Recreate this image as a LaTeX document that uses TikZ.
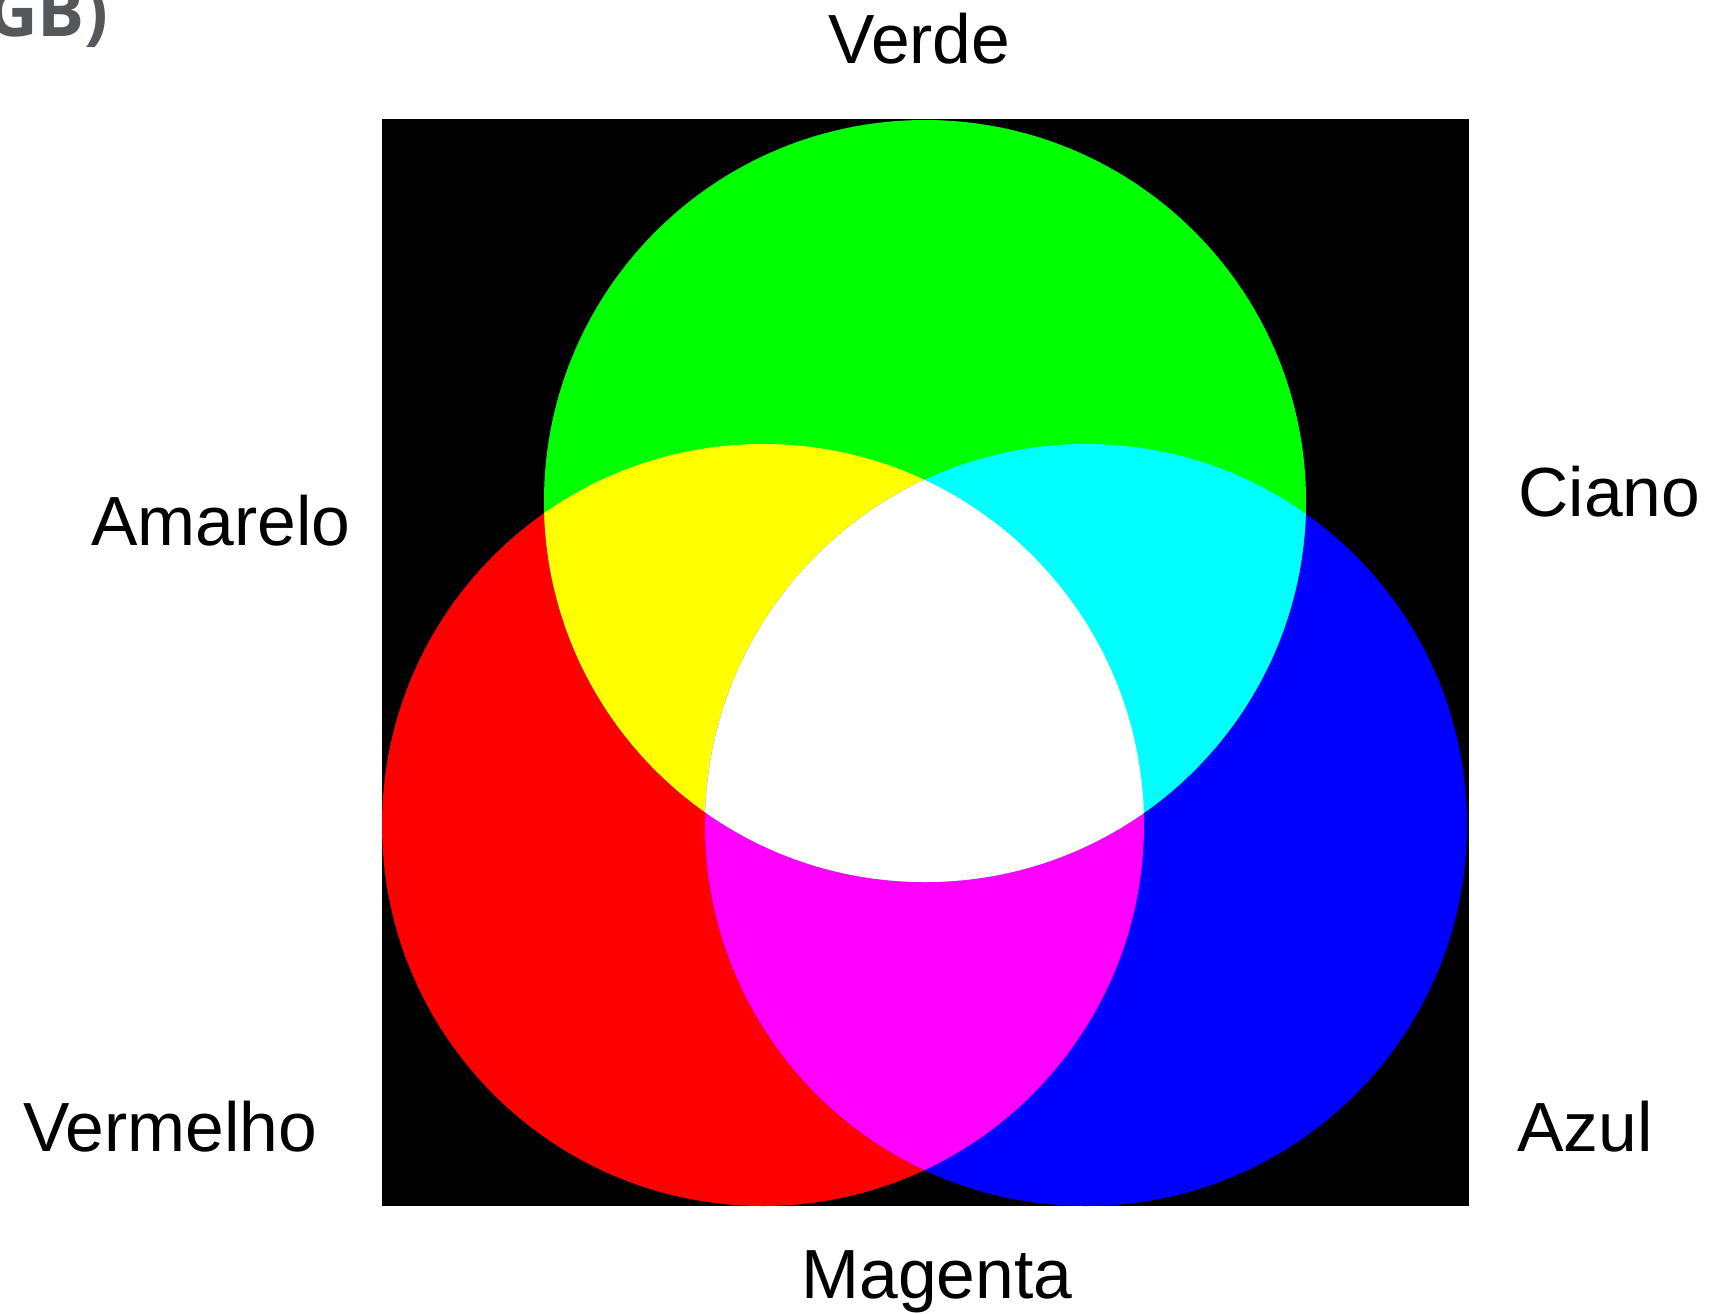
\documentclass[tikz,border=0pt]{standalone}
\usepackage{fontspec}
\setmainfont{Liberation Sans}
\newfontfamily\capfont{Open Sans}
\definecolor{capgray}{HTML}{54585A}
\definecolor{pR}{RGB}{255,0,0}
\definecolor{pG}{RGB}{0,255,0}
\definecolor{pB}{RGB}{0,0,255}
\definecolor{pY}{RGB}{255,255,0}
\definecolor{pC}{RGB}{0,255,255}
\definecolor{pM}{RGB}{255,0,255}
\definecolor{pW}{RGB}{255,255,255}
\begin{document}
\begin{tikzpicture}[x=0.5pt,y=-0.5pt,
  lbl/.style={anchor=base west,inner sep=0pt,font=\fontsize{34.8pt}{40pt}\selectfont,text=black}]
\useasboundingbox (0,0) rectangle (1730,1313);
\fill[white] (0,0) rectangle (1730,1313);
\fill[black] (382,119) rectangle (1469,1206);
\def\rr{190.5pt}
\coordinate (R) at (763,825);
\coordinate (B) at (1086,825);
\coordinate (G) at (925,501);
\fill[pR] (R) circle[radius=\rr];
\fill[pB] (B) circle[radius=\rr];
\fill[pG] (G) circle[radius=\rr];
\begin{scope}
  \clip (R) circle[radius=\rr];
  \fill[pY] (G) circle[radius=\rr];
  \fill[pM] (B) circle[radius=\rr];
\end{scope}
\begin{scope}
  \clip (G) circle[radius=\rr];
  \fill[pC] (B) circle[radius=\rr];
  \clip (R) circle[radius=\rr];
  \fill[pW] (B) circle[radius=\rr];
\end{scope}
\node[lbl] (verde) at (828,63) {Verde};
\node[lbl] (amarelo) at (91,545) {Amarelo};
\node[lbl] (ciano) at (1518,516) {Ciano};
\node[lbl] (vermelho) at (23,1151) {Vermelho};
\node[lbl] (azul) at (1517,1151) {Azul};
\node[lbl] (magenta) at (801,1298) {Magenta};
\node[anchor=base east,inner sep=0pt,text=capgray,font=\capfont\bfseries\fontsize{35pt}{40pt}\selectfont] (cap) at (109,36) {GB)};
\end{tikzpicture}
\end{document}
